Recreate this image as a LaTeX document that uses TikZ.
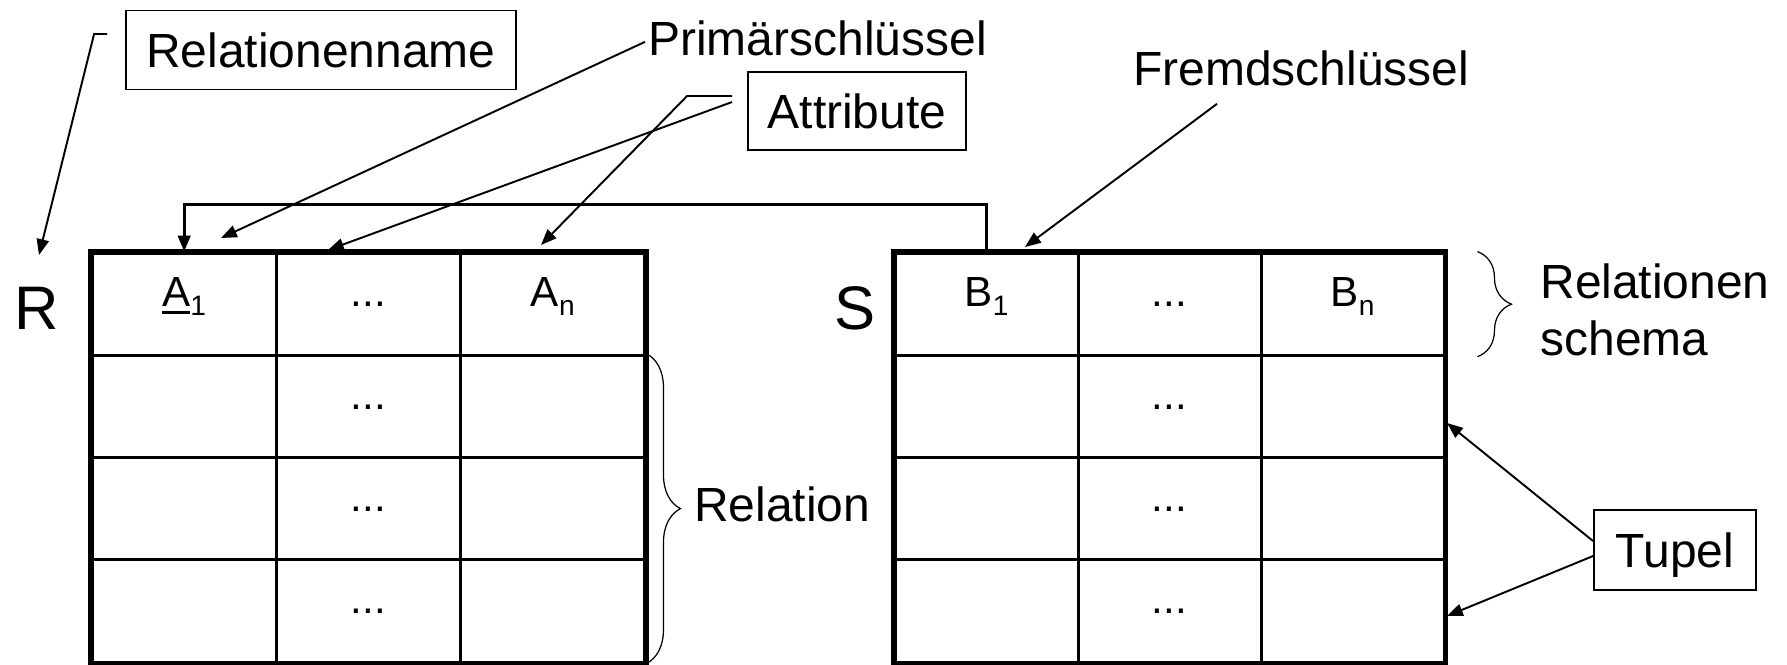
\documentclass[tikz,border=0pt]{standalone}
\usepackage{fontspec}
\setmainfont{Liberation Sans}
\usetikzlibrary{arrows.meta,decorations.pathreplacing,calc}
\newcommand\ulA{\setbox0\hbox{A}\rlap{\rule[-4.2pt]{\wd0}{1.2pt}}A}
\newcommand\subx[1]{\raisebox{-5.5pt}{\fontsize{16}{16}\selectfont #1}}
\begin{document}
\begin{tikzpicture}[x=0.02cm,y=-0.02cm,
  lab/.style={font=\fontsize{27.3}{32.5}\selectfont, inner sep=0pt},
  labbox/.style={draw, line width=1.1pt, font=\fontsize{27.3}{32.5}\selectfont, inner sep=0pt, text depth=0pt},
  big/.style={font=\fontsize{35}{40}\selectfont, inner sep=0pt, anchor=base},
  rcell/.style={draw, line width=1.7pt, minimum width=3.6867cm, minimum height=2.045cm, inner sep=0pt},
  scell/.style={draw, line width=1.7pt, minimum width=3.66cm, minimum height=2.045cm, inner sep=0pt},
  hd/.style={font=\fontsize{24}{28}\selectfont, inner sep=0pt, anchor=base},
  arr/.style={line width=1.1pt, -{Triangle[length=9pt,width=7pt]}},
  fkline/.style={line width=1.7pt, -{Triangle[length=9pt,width=7pt]}},
  outerline/.style={line width=3.4pt},
  brc/.style={decorate, decoration={brace, amplitude=0.68cm}, line width=0.7pt},
]
\useasboundingbox (0,0) rectangle (1787,664);
% table R
\foreach \i in {1,2,3} \foreach \j in {1,2,3,4}
  \node[rcell] (r\i\j) at ({92+184.33*(\i-0.5)},{253+102.25*(\j-0.5)}) {};
\draw[outerline] (r11.north west) rectangle (r34.south east);
% table S
\foreach \i in {1,2,3} \foreach \j in {1,2,3,4}
  \node[scell] (s\i\j) at ({895+183*(\i-0.5)},{253+102.25*(\j-0.5)}) {};
\draw[outerline] (s11.north west) rectangle (s34.south east);
% header texts
\node[hd] (a1) at ($(r11.center)+(0,2)$) {\ulA\subx{1}};
\node[hd] (ad) at ($(r21.center)+(0,2)$) {...};
\node[hd] (an) at ($(r31.center)+(0,2)$) {A\subx{n}};
\node[hd] (b1) at ($(s11.center)+(0,2)$) {B\subx{1}};
\node[hd] (bd) at ($(s21.center)+(0,2)$) {...};
\node[hd] (bn) at ($(s31.center)+(0,2)$) {B\subx{n}};
\foreach \j in {2,3,4} {
  \node[hd] (rd\j) at ($(r2\j.center)+(0,3)$) {...};
  \node[hd] (sd\j) at ($(s2\j.center)+(0,3)$) {...};
}
% relation names
\node[big] (Rl) at (37,329) {R};
\node[big] (Sl) at (855,329) {S};
% labels
\node[labbox, minimum width=7.8cm, minimum height=1.58cm] (relname) at (321,50) {Relationenname};
\node[labbox, minimum width=4.36cm, minimum height=1.56cm] (attr) at (857,111) {Attribute};
\node[labbox, minimum width=3.24cm, minimum height=1.6cm] (tupel) at (1675,550) {Tupel};
\node[lab, anchor=base west] (prim) at (648,55) {Primärschlüssel};
\node[lab, anchor=base west] (fremd) at (1133,85) {Fremdschlüssel};
\node[lab, anchor=base west] (relation) at (694,521) {Relation};
\node[lab, anchor=base west] (relschema1) at (1540,298) {Relationen};
\node[lab, anchor=base west] (relschema2) at (1540,355) {schema};
% braces
\draw[brc] (r32.north east) -- (r34.south east);
\draw[brc] ($(s31.north east)+(32,0)$) -- ($(s31.south east)+(32,0)$);
% arrow tips
\coordinate (rnTip) at (39,255);
\coordinate (pkTip) at (221,238);
\coordinate (midTip) at (328,250);
\coordinate (anTip) at (541,245);
\coordinate (fkTip) at (1025,247);
\coordinate (t1) at (1447,423);
\coordinate (t2) at (1447,616);
% connectors
\draw[arr] ($(relname.west)+(-18,-16)$) -- ++(-13,0) -- (rnTip);
\draw[arr] ($(prim.west)+(-3,4)$) -- (pkTip);
\draw[arr] ($(attr.west)+(-15,-15)$) -- ++(-45,0) -- (anTip);
\draw[arr] ($(attr.west)+(-15,-9)$) -- (midTip);
\draw[arr] ($(fremd.south west)+(84,18)$) -- (fkTip);
\draw[arr] ($(tupel.west)+(0,-9)$) -- (t1);
\draw[arr] ($(tupel.west)+(0,6)$) -- (t2);
\draw[fkline] (s11.north) -- ++(0,-47) -| (r11.north);
\end{tikzpicture}
\end{document}
